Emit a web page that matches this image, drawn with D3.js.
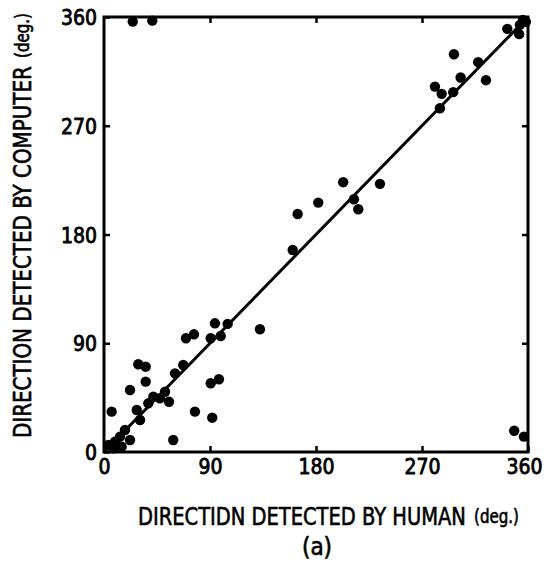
<!DOCTYPE html>
<html>
<head>
<meta charset="utf-8">
<script src="https://cdn.jsdelivr.net/npm/d3@7"></script>
<style>
	body { margin: 0; background: #fff; }
	text { font-family: "DejaVu Sans Condensed", "DejaVu Sans", sans-serif; fill: #000; }
</style>
</head>
<body>
<div id="chart"></div>
<script>
// direction read by the human (x) and by the computer (y), degrees
var human = [3.7, 7.9, 9.3, 13.6, 15.0, 17.8, 22.1, 6.5, 22.1, 29.1, 35.4, 35.4, 27.8, 30.6,
	37.6, 41.9, 47.5, 51.8, 55.2, 58.8, 60.3, 67.3, 69.6, 76.4, 77.2, 90.6, 97.6, 91.9,
	90.6, 99.1, 94.2, 105.0, 132.4, 160.2, 164.4, 181.9, 203.1, 212.2, 215.9, 234.3,
	285.2, 281.0, 286.7, 296.5, 302.8, 297.1, 317.7, 324.3, 342.4, 352.5, 353.1, 355.7,
	358.2, 24.4, 41.0, 348.3, 356.5];
var computer = [5.8, 3.1, 8.5, 12.7, 4.4, 18.2, 9.9, 33.4, 51.3, 72.6, 70.6, 58.2, 34.8, 26.5,
	40.3, 45.8, 44.5, 49.9, 41.6, 9.9, 65.1, 72.0, 94.1, 97.4, 33.4, 56.9, 60.2, 28.4,
	94.1, 96.0, 106.5, 106.0, 101.6, 167.2, 197.0, 206.4, 223.3, 209.2, 200.9, 221.9,
	284.5, 302.4, 296.4, 297.8, 309.9, 329.2, 322.6, 307.7, 350.2, 345.8, 353.5, 357.6,
	356.0, 356.2, 357.0, 17.6, 12.7];
var tickValues = [0, 90, 180, 270, 360];
var fitLine = [0, 360];

var svg = d3.select("#chart")
	.append("svg")
	.attr("width", 544)
	.attr("height", 561);

var x = d3.scaleLinear().domain([0, 360]).range([104, 528]);
var y = d3.scaleLinear().domain([0, 360]).range([452, 17]);

var data = human.map((h, i) => ({h: h, c: computer[i]}));

// squeeze a text horizontally so it spans `width` px starting at (tx, ty)
function narrow(parent, str, tx, ty, size, width) {
	var t = parent.append("text")
		.style("font-size", size + "px")
		.style("stroke", "#000")
		.style("stroke-width", 0.6)
		.text(str);
	var w = t.node().getComputedTextLength();
	t.attr("transform", "translate(" + tx + "," + ty + ") scale(" + (width / w) + ",1)");
	return t;
}

// frame
svg.append("rect")
	.attr("x", x(0))
	.attr("y", y(360))
	.attr("width", x(360) - x(0))
	.attr("height", y(0) - y(360))
	.attr("fill", "none")
	.attr("stroke", "#000")
	.attr("stroke-width", 3);

// ticks pointing inwards on all four sides
var xAxis = svg.append("g")
	.attr("transform", "translate(0," + y(0) + ")")
	.call(d3.axisBottom(x).tickValues(tickValues).tickSizeInner(-6).tickSizeOuter(0).tickPadding(6));
var yAxis = svg.append("g")
	.attr("transform", "translate(" + x(0) + ",0)")
	.call(d3.axisLeft(y).tickValues(tickValues).tickSizeInner(-6).tickSizeOuter(0).tickPadding(7));
svg.append("g")
	.attr("transform", "translate(0," + y(360) + ")")
	.call(d3.axisTop(x).tickValues([90, 180, 270]).tickSizeInner(-6).tickSizeOuter(0).tickFormat(""));
svg.append("g")
	.attr("transform", "translate(" + x(360) + ",0)")
	.call(d3.axisRight(y).tickValues([90, 180, 270]).tickSizeInner(-6).tickSizeOuter(0).tickFormat(""));

svg.selectAll(".domain").remove();
svg.selectAll(".tick line").attr("stroke-width", 2.5);
svg.selectAll(".tick text")
	.style("font-size", "21px")
	.style("stroke", "#000")
	.style("stroke-width", 0.8)
	.style("font-family", "'DejaVu Sans Condensed', sans-serif");
xAxis.selectAll(".tick text").attr("dy", "0.75em");
xAxis.selectAll(".tick text").filter(d => d == 360).attr("dx", -4);
yAxis.selectAll(".tick text").attr("dy", "0.36em");

// y = x line
svg.append("line")
	.attr("x1", x(fitLine[0]))
	.attr("y1", y(fitLine[0]))
	.attr("x2", x(fitLine[1]))
	.attr("y2", y(fitLine[1]))
	.attr("stroke", "#000")
	.attr("stroke-width", 3);

svg.selectAll(".dot")
	.data(data)
	.enter()
	.append("circle")
	.attr("class", "dot")
	.attr("cx", d => x(d.h))
	.attr("cy", d => y(d.c))
	.attr("r", 5.2)
	.attr("fill", "#000");

// axis titles
narrow(svg, "DIRECTIDN DETECTED BY HUMAN", 138, 525, 25, 328);
narrow(svg, "(deg.)", 474, 523, 19, 45);
svg.append("text")
	.attr("x", 317)
	.attr("y", 555)
	.style("font-size", "24px")
	.style("stroke", "#000")
	.style("stroke-width", 0.6)
	.style("text-anchor", "middle")
	.text("(a)");

var yTitle = svg.append("g").attr("transform", "translate(31,438) rotate(-90)");
narrow(yTitle, "DIRECTION DETECTED BY COMPUTER", 0, 0, 25, 372);
narrow(yTitle, "(deg.)", 380, -2, 19, 45);
</script>
</body>
</html>
